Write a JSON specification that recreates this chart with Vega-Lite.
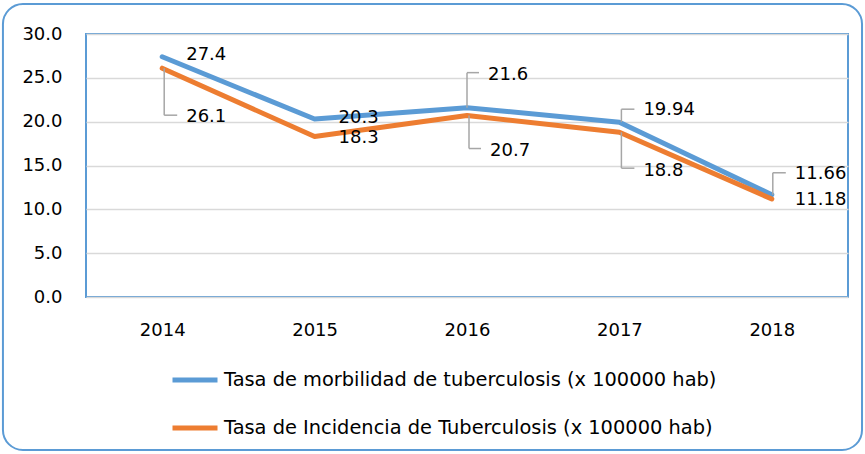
{
  "$schema": "https://vega.github.io/schema/vega-lite/v6.json",
  "width": 762,
  "height": 263,
  "autosize": {"type": "none"},
  "padding": {"left": 86, "top": 34, "right": 17, "bottom": 157},
  "background": "white",
  "config": {
    "font": "DejaVu Sans",
    "view": {"stroke": "#5B9BD5", "strokeWidth": 2},
    "axis": {"labelFontSize": 18, "labelColor": "#000000", "labelFont": "DejaVu Sans", "ticks": false, "domain": false, "title": null},
    "legend": {"labelFont": "DejaVu Sans"},
    "text": {"font": "DejaVu Sans", "fontSize": 18, "color": "#000000", "align": "left", "baseline": "middle"},
    "rule": {"color": "#A6A6A6", "strokeWidth": 1.5}
  },
  "datasets": {
    "d": [
      {"year": 2014, "k": "M", "serie": "Tasa de morbilidad de tuberculosis (x 100000 hab)", "value": 27.4},
      {"year": 2015, "k": "M", "serie": "Tasa de morbilidad de tuberculosis (x 100000 hab)", "value": 20.3},
      {"year": 2016, "k": "M", "serie": "Tasa de morbilidad de tuberculosis (x 100000 hab)", "value": 21.6},
      {"year": 2017, "k": "M", "serie": "Tasa de morbilidad de tuberculosis (x 100000 hab)", "value": 19.94},
      {"year": 2018, "k": "M", "serie": "Tasa de morbilidad de tuberculosis (x 100000 hab)", "value": 11.66},
      {"year": 2014, "k": "I", "serie": "Tasa de Incidencia de Tuberculosis (x 100000 hab)", "value": 26.1},
      {"year": 2015, "k": "I", "serie": "Tasa de Incidencia de Tuberculosis (x 100000 hab)", "value": 18.3},
      {"year": 2016, "k": "I", "serie": "Tasa de Incidencia de Tuberculosis (x 100000 hab)", "value": 20.7},
      {"year": 2017, "k": "I", "serie": "Tasa de Incidencia de Tuberculosis (x 100000 hab)", "value": 18.8},
      {"year": 2018, "k": "I", "serie": "Tasa de Incidencia de Tuberculosis (x 100000 hab)", "value": 11.18}
    ]
  },
  "data": {"name": "d"},
  "layer": [
    {
      "data": {"values": [{}]},
      "mark": {"type": "rect", "fill": "transparent", "stroke": "#5B9BD5", "strokeWidth": 2, "cornerRadius": 20, "clip": false},
      "encoding": {
        "x": {"datum": 2012.955, "type": "quantitative", "scale": {"domain": [2013.5, 2018.5]}},
        "x2": {"datum": 2018.592},
        "y": {"datum": 33.42, "type": "quantitative", "scale": {"domain": [0, 30]}},
        "y2": {"datum": -17.45}
      }
    },
    {
      "mark": {"type": "line", "strokeWidth": 5, "strokeCap": "round", "strokeJoin": "round"},
      "encoding": {
        "x": {"field": "year", "type": "quantitative", "scale": {"domain": [2013.5, 2018.5]},
          "axis": {"values": [2014, 2015, 2016, 2017, 2018], "format": "d", "grid": false, "labelPadding": 24}},
        "y": {"field": "value", "type": "quantitative", "scale": {"domain": [0, 30]},
          "axis": {"values": [0, 5, 10, 15, 20, 25, 30], "format": ".1f", "grid": true, "gridColor": "#D9D9D9", "gridWidth": 1.5, "labelPadding": 24}},
        "color": {"field": "serie", "type": "nominal",
          "scale": {"domain": ["Tasa de morbilidad de tuberculosis (x 100000 hab)", "Tasa de Incidencia de Tuberculosis (x 100000 hab)"], "range": ["#5B9BD5", "#ED7D31"]},
          "legend": {"orient": "none", "legendX": 84, "legendY": 321, "title": null, "direction": "vertical", "symbolType": "stroke", "symbolSize": 2025, "symbolStrokeWidth": 5, "labelFontSize": 19.4, "labelColor": "#000000", "labelOffset": 4, "rowPadding": 13, "labelLimit": 800, "padding": 0}}
      }
    },
    {"transform": [{"filter": "datum.year == 2014 && datum.k == 'I'"}], "mark": {"type": "rule", "xOffset": 2, "y2Offset": 47},
      "encoding": {"x": {"field": "year", "type": "quantitative"}, "y": {"field": "value", "type": "quantitative"}, "y2": {"field": "value"}}},
    {"transform": [{"filter": "datum.year == 2014 && datum.k == 'I'"}], "mark": {"type": "rule", "xOffset": 2, "x2Offset": 15, "yOffset": 47},
      "encoding": {"x": {"field": "year", "type": "quantitative"}, "x2": {"field": "year"}, "y": {"field": "value", "type": "quantitative"}}},
    {"transform": [{"filter": "datum.year == 2016 && datum.k == 'M'"}], "mark": {"type": "rule", "xOffset": 0, "y2Offset": -35},
      "encoding": {"x": {"field": "year", "type": "quantitative"}, "y": {"field": "value", "type": "quantitative"}, "y2": {"field": "value"}}},
    {"transform": [{"filter": "datum.year == 2016 && datum.k == 'M'"}], "mark": {"type": "rule", "xOffset": 0, "x2Offset": 12, "yOffset": -35},
      "encoding": {"x": {"field": "year", "type": "quantitative"}, "x2": {"field": "year"}, "y": {"field": "value", "type": "quantitative"}}},
    {"transform": [{"filter": "datum.year == 2016 && datum.k == 'I'"}], "mark": {"type": "rule", "xOffset": 2, "y2Offset": 33},
      "encoding": {"x": {"field": "year", "type": "quantitative"}, "y": {"field": "value", "type": "quantitative"}, "y2": {"field": "value"}}},
    {"transform": [{"filter": "datum.year == 2016 && datum.k == 'I'"}], "mark": {"type": "rule", "xOffset": 2, "x2Offset": 14, "yOffset": 33},
      "encoding": {"x": {"field": "year", "type": "quantitative"}, "x2": {"field": "year"}, "y": {"field": "value", "type": "quantitative"}}},
    {"transform": [{"filter": "datum.year == 2017 && datum.k == 'M'"}], "mark": {"type": "rule", "xOffset": 2, "y2Offset": -13},
      "encoding": {"x": {"field": "year", "type": "quantitative"}, "y": {"field": "value", "type": "quantitative"}, "y2": {"field": "value"}}},
    {"transform": [{"filter": "datum.year == 2017 && datum.k == 'M'"}], "mark": {"type": "rule", "xOffset": 2, "x2Offset": 15, "yOffset": -13},
      "encoding": {"x": {"field": "year", "type": "quantitative"}, "x2": {"field": "year"}, "y": {"field": "value", "type": "quantitative"}}},
    {"transform": [{"filter": "datum.year == 2017 && datum.k == 'I'"}], "mark": {"type": "rule", "xOffset": 2, "y2Offset": 36},
      "encoding": {"x": {"field": "year", "type": "quantitative"}, "y": {"field": "value", "type": "quantitative"}, "y2": {"field": "value"}}},
    {"transform": [{"filter": "datum.year == 2017 && datum.k == 'I'"}], "mark": {"type": "rule", "xOffset": 2, "x2Offset": 15, "yOffset": 36},
      "encoding": {"x": {"field": "year", "type": "quantitative"}, "x2": {"field": "year"}, "y": {"field": "value", "type": "quantitative"}}},
    {"transform": [{"filter": "datum.year == 2018 && datum.k == 'M'"}], "mark": {"type": "rule", "xOffset": 1, "y2Offset": -22},
      "encoding": {"x": {"field": "year", "type": "quantitative"}, "y": {"field": "value", "type": "quantitative"}, "y2": {"field": "value"}}},
    {"transform": [{"filter": "datum.year == 2018 && datum.k == 'M'"}], "mark": {"type": "rule", "xOffset": 1, "x2Offset": 14, "yOffset": -22},
      "encoding": {"x": {"field": "year", "type": "quantitative"}, "x2": {"field": "year"}, "y": {"field": "value", "type": "quantitative"}}},
    {"transform": [{"filter": "datum.year == 2014 && datum.k == 'M'"}], "mark": {"type": "text", "dx": 24, "dy": -2},
      "encoding": {"x": {"field": "year", "type": "quantitative"}, "y": {"field": "value", "type": "quantitative"}, "text": {"field": "value", "type": "quantitative", "format": "~g"}}},
    {"transform": [{"filter": "datum.year == 2015 && datum.k == 'M'"}], "mark": {"type": "text", "dx": 24, "dy": -1},
      "encoding": {"x": {"field": "year", "type": "quantitative"}, "y": {"field": "value", "type": "quantitative"}, "text": {"field": "value", "type": "quantitative", "format": "~g"}}},
    {"transform": [{"filter": "datum.year == 2016 && datum.k == 'M'"}], "mark": {"type": "text", "dx": 21, "dy": -33},
      "encoding": {"x": {"field": "year", "type": "quantitative"}, "y": {"field": "value", "type": "quantitative"}, "text": {"field": "value", "type": "quantitative", "format": "~g"}}},
    {"transform": [{"filter": "datum.year == 2017 && datum.k == 'M'"}], "mark": {"type": "text", "dx": 24, "dy": -12},
      "encoding": {"x": {"field": "year", "type": "quantitative"}, "y": {"field": "value", "type": "quantitative"}, "text": {"field": "value", "type": "quantitative", "format": "~g"}}},
    {"transform": [{"filter": "datum.year == 2018 && datum.k == 'M'"}], "mark": {"type": "text", "dx": 23, "dy": -21},
      "encoding": {"x": {"field": "year", "type": "quantitative"}, "y": {"field": "value", "type": "quantitative"}, "text": {"field": "value", "type": "quantitative", "format": "~g"}}},
    {"transform": [{"filter": "datum.year == 2014 && datum.k == 'I'"}], "mark": {"type": "text", "dx": 24, "dy": 49},
      "encoding": {"x": {"field": "year", "type": "quantitative"}, "y": {"field": "value", "type": "quantitative"}, "text": {"field": "value", "type": "quantitative", "format": "~g"}}},
    {"transform": [{"filter": "datum.year == 2015 && datum.k == 'I'"}], "mark": {"type": "text", "dx": 24, "dy": 1},
      "encoding": {"x": {"field": "year", "type": "quantitative"}, "y": {"field": "value", "type": "quantitative"}, "text": {"field": "value", "type": "quantitative", "format": "~g"}}},
    {"transform": [{"filter": "datum.year == 2016 && datum.k == 'I'"}], "mark": {"type": "text", "dx": 23, "dy": 35},
      "encoding": {"x": {"field": "year", "type": "quantitative"}, "y": {"field": "value", "type": "quantitative"}, "text": {"field": "value", "type": "quantitative", "format": "~g"}}},
    {"transform": [{"filter": "datum.year == 2017 && datum.k == 'I'"}], "mark": {"type": "text", "dx": 24, "dy": 39},
      "encoding": {"x": {"field": "year", "type": "quantitative"}, "y": {"field": "value", "type": "quantitative"}, "text": {"field": "value", "type": "quantitative", "format": "~g"}}},
    {"transform": [{"filter": "datum.year == 2018 && datum.k == 'I'"}], "mark": {"type": "text", "dx": 23, "dy": 1},
      "encoding": {"x": {"field": "year", "type": "quantitative"}, "y": {"field": "value", "type": "quantitative"}, "text": {"field": "value", "type": "quantitative", "format": "~g"}}}
  ]
}
